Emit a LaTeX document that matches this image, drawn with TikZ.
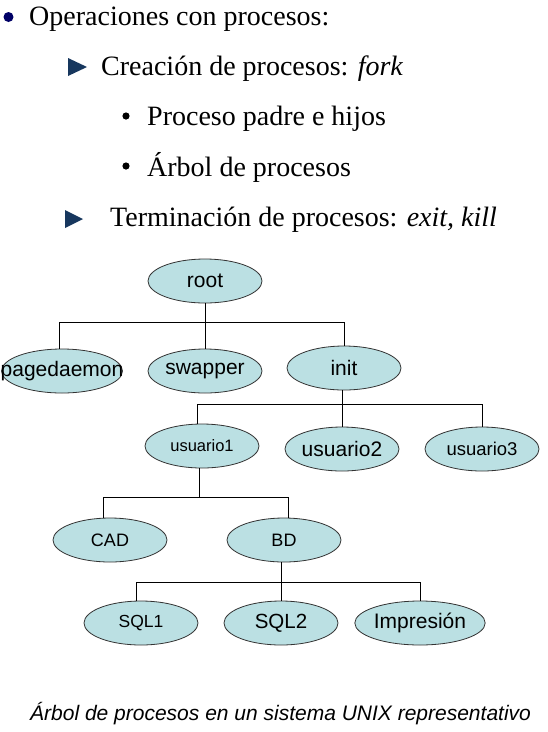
\documentclass[tikz,border=0pt]{standalone}
\usepackage{fontspec}
\setmainfont{Liberation Serif}
\newfontfamily\arialf{Liberation Sans}
\usetikzlibrary{shapes.geometric}
\definecolor{treefill}{RGB}{187,224,227}
\definecolor{navybullet}{RGB}{0,0,102}
\definecolor{tribullet}{RGB}{23,55,94}
\tikzset{
  proc/.style={ellipse, draw=black!80, line width=0.8pt, fill=treefill,
    minimum width=114pt, minimum height=44pt, inner sep=0pt,
    font=\arialf\fontsize{21}{24}\selectfont},
  conn/.style={draw=black, line width=0.9pt},
  bodytext/.style={anchor=base west, inner sep=0pt, font=\fontsize{28}{32}\selectfont},
}
\begin{document}
\begin{tikzpicture}[x=1pt, y=-1pt]
\useasboundingbox (0,0) rectangle (548,732);
\fill[white] (0,0) rectangle (548,732);

% bullets
\fill[navybullet] (8.5,17) circle (5);
\fill[tribullet] (68,58) -- (68,76) -- (87,67) -- cycle;
\fill[black] (126,116) circle (3.6);
\fill[black] (126,166) circle (3.6);
\fill[tribullet] (65,210) -- (65,228) -- (83,219) -- cycle;

\node[bodytext] (t1) at (29,25) {Operaciones con procesos:};
\node[bodytext] (t2) at (101,75) {Creación de procesos: \textit{fork}};
\node[bodytext] (t3) at (147,125) {Proceso padre e hijos};
\node[bodytext] (t4) at (147,176) {Árbol de procesos};
\node[bodytext] (t5) at (110,226) {Terminación de procesos: \textit{exit, kill}};

% tree nodes
\node[proc] (root) at (205,281) {root};
\node[proc, minimum width=121pt] (pagedaemon) at (62,371) {\makebox[0pt][c]{pagedaemon}};
\node[proc] (swapper) at (205,371) {swapper};
\node[proc] (init) at (344,368) {init};
\node[proc, font=\arialf\fontsize{16.5}{19}\selectfont] (usuario1) at (202,446) {usuario1};
\node[proc] (usuario2) at (342,449) {usuario2};
\node[proc, font=\arialf\fontsize{18.5}{22}\selectfont] (usuario3) at (482,449) {usuario3};
\node[proc, font=\arialf\fontsize{18}{21}\selectfont] (CAD) at (110,540) {CAD};
\node[proc, font=\arialf\fontsize{18}{21}\selectfont] (BD) at (284,540) {BD};
\node[proc, font=\arialf\fontsize{17.5}{21}\selectfont] (SQL1) at (141,623) {SQL1};
\node[proc, font=\arialf\fontsize{20.5}{24}\selectfont] (SQL2) at (281,623) {SQL2};
\node[proc] (impresion) at (420,623) {Impresión};

% bar levels
\coordinate (b1) at (0,322);
\coordinate (b2) at (0,404);
\coordinate (b3) at (0,497);
\coordinate (b4) at (0,582);

% connectors
\draw[conn] (root.south) -- (root.south |- b1);
\draw[conn] (root.south |- b1) -| ([xshift=-3pt]pagedaemon.north);
\draw[conn] (root.south |- b1) -- (swapper.north);
\draw[conn] (root.south |- b1) -| (init.north);

\draw[conn] ([xshift=-2pt]init.south) -- ([xshift=-2pt]init.south |- b2);
\draw[conn] ([xshift=-2pt]init.south |- b2) -| ([xshift=-5pt]usuario1.north);
\draw[conn] ([xshift=-2pt]init.south |- b2) -- ([xshift=-2pt]init.south |- usuario2.north);
\draw[conn] ([xshift=-2pt]init.south |- b2) -| (usuario3.north);

\draw[conn] ([xshift=-3pt]usuario1.south) -- ([xshift=-3pt]usuario1.south |- b3);
\draw[conn] ([xshift=-3pt]usuario1.south |- b3) -| ([xshift=-7pt]CAD.north);
\draw[conn] ([xshift=-3pt]usuario1.south |- b3) -| ([xshift=4pt]BD.north);

\draw[conn] ([xshift=-3pt]BD.south) -- ([xshift=-3pt]BD.south |- b4);
\draw[conn] ([xshift=-3pt]BD.south |- b4) -| ([xshift=-5pt]SQL1.north);
\draw[conn] ([xshift=-3pt]BD.south |- b4) -- (SQL2.north);
\draw[conn] ([xshift=-3pt]BD.south |- b4) -| (impresion.north);

\node[anchor=base west, inner sep=0pt, font=\arialf\itshape\fontsize{21}{24}\selectfont] (caption) at (30,720) {Árbol de procesos en un sistema UNIX representativo};
\end{tikzpicture}
\end{document}
